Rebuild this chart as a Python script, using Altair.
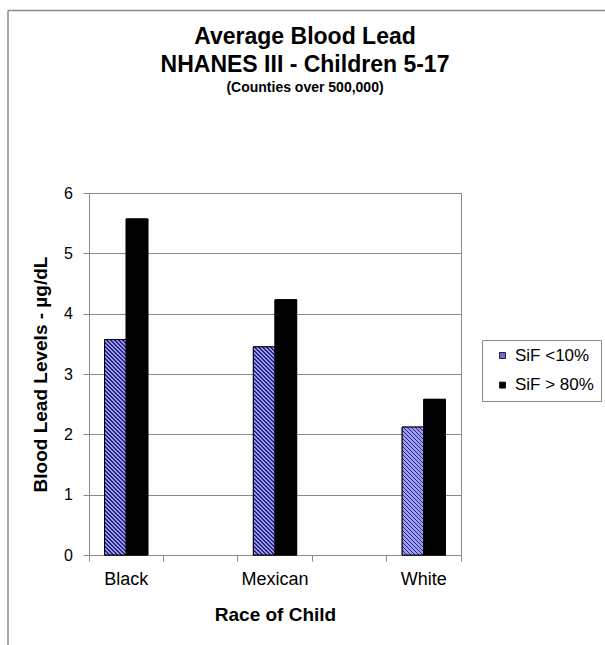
import altair as alt

# --- data -------------------------------------------------------------
races = ["Black", "Mexican", "White"]
series = ["SiF <10%", "SiF > 80%"]
sif_low = [3.57, 3.45, 2.12]     # SiF <10%
sif_high = [5.57, 4.23, 2.58]    # SiF > 80%
y_ticks = [0, 1, 2, 3, 4, 5, 6]

# --- style ------------------------------------------------------------
FONT = "Liberation Sans"
GRAY = "#8a8a8a"
PLOT_W, PLOT_H = 372, 362
Y_MAX = 6
PAD_INNER = 0.5          # x band scale inner padding
OFFSET_PAD_OUTER = 0.72  # keeps the two bars of a group narrow and centred

STRIPE_DARK = "#26267e"
STRIPE_LIGHT = "#9c9cf0"
STRIPE_PERIOD = 4.0      # px, measured along x
STRIPE_DARK_FRAC = 0.42
LEGEND_HATCH = "#6d6dcf"

band_step = PLOT_W / (len(races) - PAD_INNER)
bar_w = band_step * (1 - PAD_INNER) / (len(series) + 2 * OFFSET_PAD_OUTER)


def hatch(value):
    """Linear gradient with hard stops that draws 45-degree downward stripes
    across a bar of the given value (bounding-box units)."""
    h = value / Y_MAX * PLOT_H
    w = bar_w
    span = w + h
    d = w * w + h * h
    stops = []
    i = 0
    while i * STRIPE_PERIOD < span:
        t0 = i * STRIPE_PERIOD / span
        t1 = min(1.0, (i + STRIPE_DARK_FRAC) * STRIPE_PERIOD / span)
        t2 = min(1.0, (i + 1) * STRIPE_PERIOD / span)
        stops += [
            {"offset": round(t0, 5), "color": STRIPE_DARK},
            {"offset": round(t1, 5), "color": STRIPE_DARK},
            {"offset": round(t1, 5), "color": STRIPE_LIGHT},
            {"offset": round(t2, 5), "color": STRIPE_LIGHT},
        ]
        i += 1
    return {
        "gradient": "linear",
        "x1": 0, "y1": 1,
        "x2": round(w * span / d, 6),
        "y2": round(1 - h * span / d, 6),
        "stops": stops,
    }


rows = []
for race, lo, hi in zip(races, sif_low, sif_high):
    rows.append({"race": race, "series": series[0], "value": lo, "pattern": hatch(lo)})
    rows.append({"race": race, "series": series[1], "value": hi, "pattern": "#000000"})

data = alt.Data(values=rows)

x_scale = alt.Scale(paddingInner=PAD_INNER, paddingOuter=0)
x_offset = alt.XOffset("series:N", sort=series,
                       scale=alt.Scale(paddingInner=0, paddingOuter=OFFSET_PAD_OUTER))
y_enc = alt.Y(
    "value:Q",
    scale=alt.Scale(domain=[0, Y_MAX], nice=False),
    axis=alt.Axis(
        values=y_ticks, format="d", grid=True, gridColor=GRAY, gridWidth=1,
        domainColor=GRAY, tickColor=GRAY, tickSize=6,
        labelFontSize=16, labelPadding=10.6, labelColor="black",
        title="Blood Lead Levels - µg/dL", titleFontSize=19,
        titleFontWeight="bold", titleColor="black", titlePadding=13,
    ),
)


def tick_axis(pos):
    return alt.Axis(orient="bottom", labels=False, domain=False, ticks=True,
                    tickSize=6, tickColor=GRAY, bandPosition=pos,
                    title=None, grid=False)


# bars carrying the colour legend
legend_bars = alt.Chart(data).mark_bar(stroke="black", strokeWidth=1).encode(
    x=alt.X("race:N", sort=races, scale=x_scale,
            axis=alt.Axis(orient="bottom", ticks=False, domainColor=GRAY,
                          labelFontSize=18, labelPadding=15, labelAngle=0,
                          labelColor="black", grid=False,
                          title="Race of Child", titleFontSize=19,
                          titleFontWeight="bold", titleColor="black",
                          titlePadding=17)),
    xOffset=x_offset,
    y=y_enc,
    color=alt.Color("series:N", sort=series,
                    scale=alt.Scale(domain=series, range=[LEGEND_HATCH, "#000000"]),
                    legend=alt.Legend(orient="none", legendX=393, legendY=147,
                                      title=None, padding=7, symbolOffset=5,
                                      labelOffset=4, symbolSize=36,
                                      symbolType="square", labelFontSize=17,
                                      labelColor="black", rowPadding=11.6,
                                      strokeColor=GRAY, fillColor="white",
                                      symbolStrokeColor="black",
                                      symbolStrokeWidth=0.8)),
)

# hatched / solid bars drawn on top
pattern_bars = alt.Chart(data).mark_bar(stroke="black", strokeWidth=1).encode(
    x=alt.X("race:N", sort=races, scale=x_scale, axis=tick_axis(0)),
    xOffset=x_offset,
    y=y_enc,
    fill=alt.Fill("pattern:N", scale=None),
)

# invisible copy that carries the closing tick of each band
edge_ticks = alt.Chart(data).mark_bar(opacity=0).encode(
    x=alt.X("race:N", sort=races, scale=x_scale, axis=tick_axis(1)),
    xOffset=x_offset,
    y=y_enc,
)

# outer frame (top and left edges)
frame_src = alt.Data(values=[{"k": 0}])
frame_left = alt.Chart(frame_src).mark_rule(color=GRAY, strokeWidth=1.5).encode(
    x=alt.value(-81), y=alt.value(-182.5), y2=alt.value(470))
frame_top = alt.Chart(frame_src).mark_rule(color=GRAY, strokeWidth=1.5).encode(
    x=alt.value(-81), x2=alt.value(530), y=alt.value(-182.5))

chart = alt.layer(
    legend_bars, pattern_bars, edge_ticks, frame_left, frame_top
).resolve_axis(x="independent").properties(
    width=PLOT_W,
    height=PLOT_H,
    autosize=alt.AutoSizeParams(type="none"),
    padding={"left": 89, "top": 193, "right": 605 - 89 - PLOT_W, "bottom": 645 - 193 - PLOT_H},
    title=alt.Title(
        text=["Average Blood Lead", "NHANES III - Children 5-17"],
        subtitle="(Counties over 500,000)",
        font=FONT, fontSize=23, fontWeight="bold", lineHeight=27.3, color="black",
        subtitleFont=FONT, subtitleFontSize=14, subtitleFontWeight="bold",
        subtitleColor="black", subtitlePadding=4,
        anchor="middle", dx=30, offset=-85,
    ),
).configure(
    font=FONT,
    background="white",
).configure_view(
    stroke=GRAY, strokeWidth=1,
).configure_axis(
    labelFont=FONT, titleFont=FONT,
).configure_legend(
    labelFont=FONT,
)

chart.save("out.html", embed_options={"renderer": "svg", "actions": False})
